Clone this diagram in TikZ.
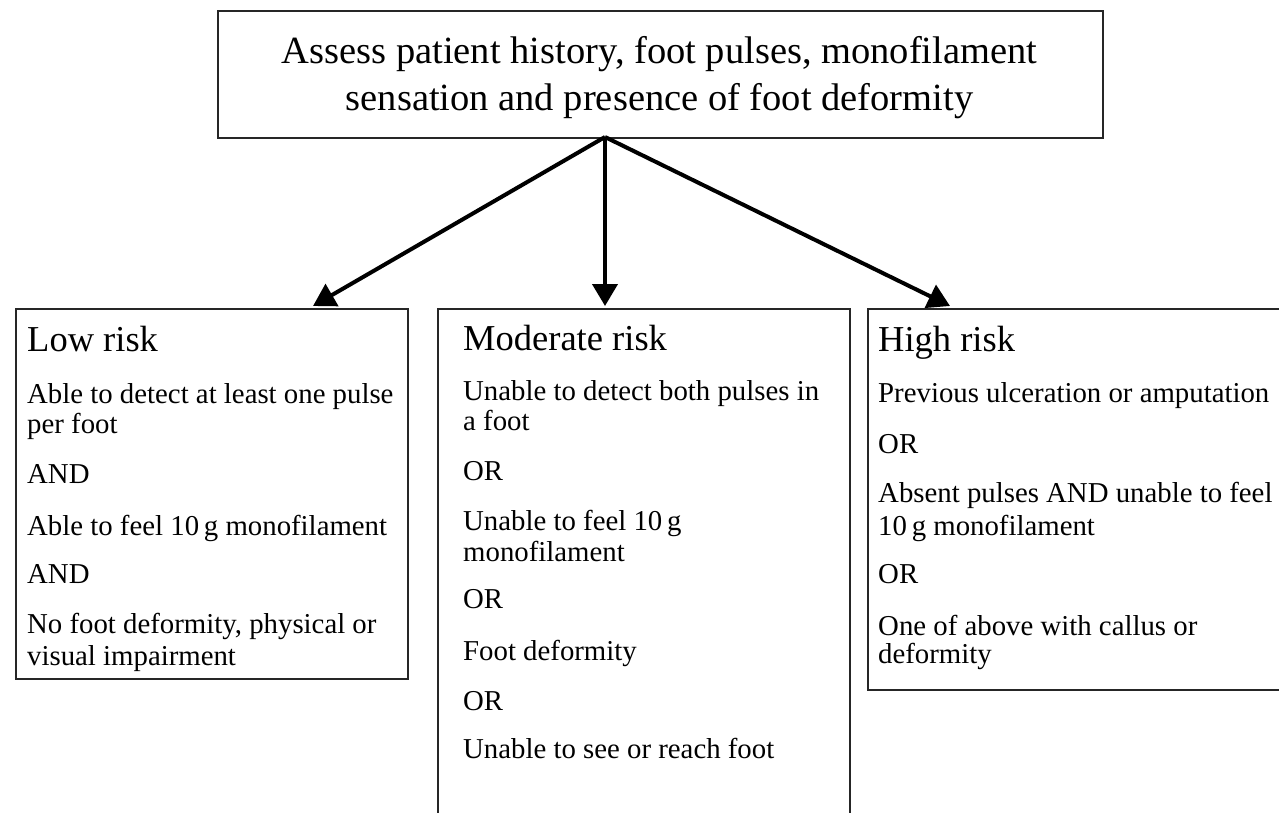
\documentclass[tikz,border=0pt]{standalone}
\usepackage{fontspec}
\setmainfont{Liberation Serif}
\usetikzlibrary{arrows.meta}
\begin{document}
\begin{tikzpicture}[x=1pt,y=-1pt,
  box/.style={draw=black!85, line width=1.6pt, anchor=north west, inner sep=0pt},
  head/.style={anchor=base west, inner sep=0pt, font=\fontsize{36.5}{40}\selectfont},
  body/.style={anchor=base west, inner sep=0pt, font=\fontsize{28.8}{31}\selectfont},
  titletext/.style={anchor=base, inner sep=0pt, font=\fontsize{38.5}{46}\selectfont},
  arr/.style={line width=4pt, -{Triangle[length=22pt,width=25pt]}}
]
\useasboundingbox (0,0) rectangle (1279,812);

% boxes
\node[box, minimum width=885pt, minimum height=127pt] (top) at (217,10) {};
\node[box, minimum width=392pt, minimum height=370pt] (low) at (15,308) {};
\node[box, minimum width=412pt, minimum height=540pt] (mod) at (437,308) {};
\node[box, minimum width=440pt, minimum height=381pt] (high) at (867,308) {};

% title
\node[titletext] (t1) at (659.5,63) {Assess patient history, foot pulses, monofilament};
\node[titletext] (t2) at (659.5,110) {sensation and presence of foot deformity};

% arrows
\coordinate (src) at (605,137);
\coordinate (tipL) at (313,306);
\coordinate (tipM) at (605,306);
\coordinate (tipH) at (950,306);
\draw[arr] (src) -- (tipL);
\draw[arr] (src) -- (tipM);
\draw[arr] (src) -- (tipH);

% low risk
\node[head] (l0) at (27,351) {Low risk};
\node[body] (l1) at (27,403) {Able to detect at least one pulse};
\node[body] (l2) at (27,433) {per foot};
\node[body] (l3) at (27,483) {AND};
\node[body] (l4) at (27,535) {Able to feel 10\,g monofilament};
\node[body] (l5) at (27,583) {AND};
\node[body] (l6) at (27,633) {No foot deformity, physical or};
\node[body] (l7) at (27,665) {visual impairment};

% moderate risk
\node[head] (m0) at (463,350) {Moderate risk};
\node[body] (m1) at (463,400) {Unable to detect both pulses in};
\node[body] (m2) at (463,430) {a foot};
\node[body] (m3) at (463,480) {OR};
\node[body] (m4) at (463,530) {Unable to feel 10\,g};
\node[body] (m5) at (463,561) {monofilament};
\node[body] (m6) at (463,608) {OR};
\node[body] (m7) at (463,660) {Foot deformity};
\node[body] (m8) at (463,710) {OR};
\node[body] (m9) at (463,758) {Unable to see or reach foot};

% high risk
\node[head] (h0) at (878,351) {High risk};
\node[body] (h1) at (878,402) {Previous ulceration or amputation};
\node[body] (h2) at (878,453) {OR};
\node[body] (h3) at (878,502) {Absent pulses AND unable to feel};
\node[body] (h4) at (878,535) {10\,g monofilament};
\node[body] (h5) at (878,583) {OR};
\node[body] (h6) at (878,635) {One of above with callus or};
\node[body] (h7) at (878,663) {deformity};
\end{tikzpicture}
\end{document}
